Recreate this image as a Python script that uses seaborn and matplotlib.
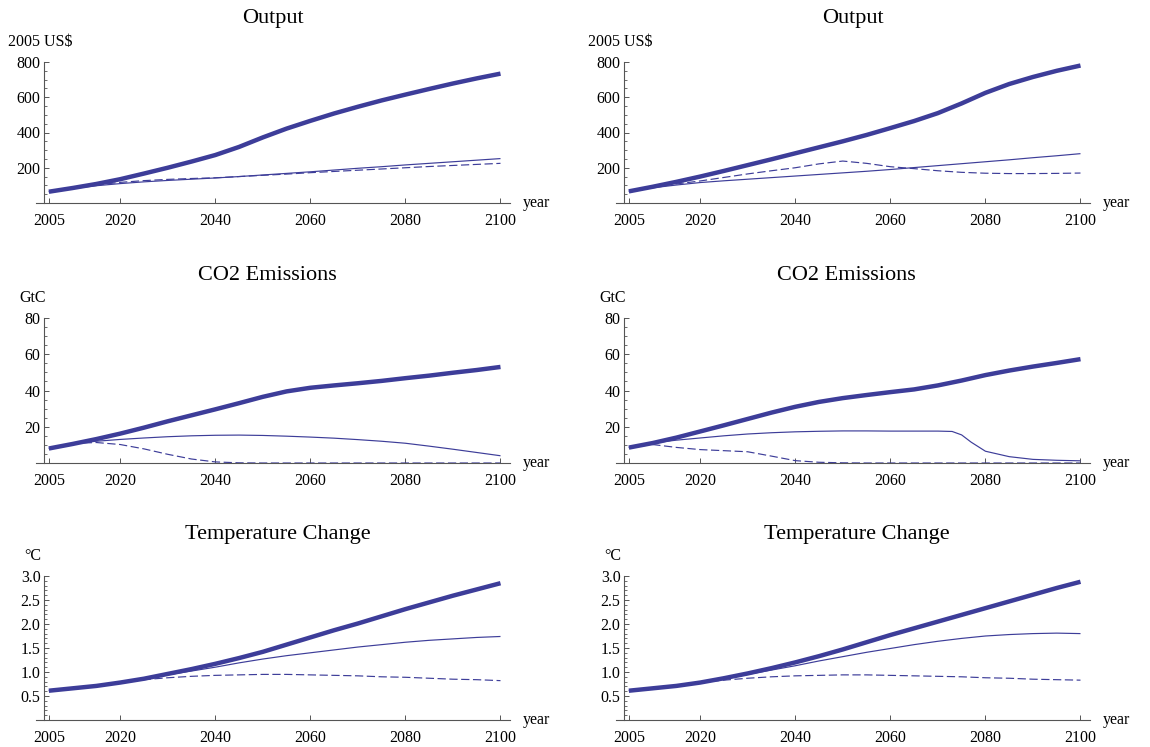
import numpy as np
import matplotlib
matplotlib.use("Agg")
import matplotlib.pyplot as plt
import seaborn as sns
from matplotlib.ticker import MultipleLocator

# ---- data (5-year steps, 2005-2100) ----
years = list(range(2005, 2101, 5))

output_a_thick = [64, 85, 108, 135, 167, 200, 235, 272, 318, 372, 422, 466, 508, 546, 582, 615, 647, 678, 707, 734]
output_a_thin = [64, 82, 98, 110, 120, 128, 135, 142, 150, 159, 168, 177, 187, 197, 206, 216, 225, 234, 243, 252]
output_a_dash = [64, 84, 102, 117, 127, 134, 139, 143, 150, 157, 164, 172, 179, 186, 193, 200, 207, 213, 219, 225]

output_b_thick = [66, 92, 120, 150, 182, 215, 248, 282, 316, 350, 386, 425, 465, 510, 565, 625, 675, 715, 750, 780]
output_b_thin = [66, 86, 102, 116, 126, 135, 144, 153, 162, 171, 180, 190, 201, 212, 223, 234, 245, 257, 268, 280]
output_b_dash = [66, 90, 108, 125, 145, 165, 183, 200, 222, 238, 225, 206, 195, 183, 174, 169, 167, 167, 168, 170]

co2_a_thick = [8, 10.5, 13.2, 16.2, 19.5, 23, 26.3, 29.6, 33, 36.5, 39.5, 41.5, 42.8, 44, 45.3, 46.8, 48.2, 49.8, 51.3, 53]
co2_a_thin = [8, 10.8, 12, 13, 13.8, 14.5, 15, 15.3, 15.4, 15.2, 14.8, 14.3, 13.7, 12.9, 12, 10.9, 9.3, 7.6, 5.8, 4]
co2_a_dash = [8, 10.8, 11.3, 10.2, 7.8, 4.8, 2.2, 0.6, 0.1, 0, 0, 0, 0, 0, 0, 0, 0, 0, 0, 0]

co2_b_thick = [8.5, 11, 14, 17.4, 20.8, 24.3, 27.8, 31, 33.7, 35.8, 37.5, 39.1, 40.6, 42.8, 45.5, 48.5, 51, 53.2, 55.2, 57.3]
co2_b_thin_years = [2005, 2010, 2015, 2020, 2025, 2030, 2035, 2040, 2045, 2050, 2055, 2060, 2065, 2070,
                    2073, 2075, 2077, 2080, 2085, 2090, 2095, 2100]
co2_b_thin = [8.5, 11, 12.6, 13.8, 15, 16, 16.7, 17.2, 17.5, 17.7, 17.7, 17.6, 17.6, 17.6,
              17.4, 15.5, 11.5, 6.5, 3.5, 2.0, 1.5, 1.2]
co2_b_dash = [8.5, 10.2, 8.6, 7.4, 6.8, 6.2, 3.8, 1.3, 0.4, 0.1, 0, 0, 0, 0, 0, 0, 0, 0, 0, 0]

temp_a_thick = [0.61, 0.66, 0.71, 0.78, 0.86, 0.96, 1.06, 1.17, 1.29, 1.42, 1.57, 1.72, 1.87, 2.01, 2.16, 2.31, 2.45, 2.59, 2.72, 2.85]
temp_a_thin = [0.61, 0.66, 0.71, 0.78, 0.85, 0.94, 1.02, 1.10, 1.19, 1.27, 1.34, 1.40, 1.46, 1.52, 1.57, 1.62, 1.66, 1.69, 1.72, 1.74]
temp_a_dash = [0.61, 0.66, 0.71, 0.78, 0.84, 0.88, 0.91, 0.93, 0.94, 0.95, 0.95, 0.94, 0.93, 0.92, 0.90, 0.89, 0.87, 0.85, 0.84, 0.82]

temp_b_thick = [0.61, 0.66, 0.71, 0.78, 0.87, 0.97, 1.08, 1.20, 1.33, 1.47, 1.62, 1.77, 1.91, 2.05, 2.19, 2.33, 2.47, 2.61, 2.75, 2.88]
temp_b_thin = [0.61, 0.66, 0.71, 0.78, 0.86, 0.95, 1.04, 1.13, 1.23, 1.32, 1.41, 1.49, 1.57, 1.64, 1.70, 1.75, 1.78, 1.80, 1.81, 1.80]
temp_b_dash = [0.61, 0.66, 0.71, 0.78, 0.83, 0.87, 0.90, 0.92, 0.93, 0.94, 0.94, 0.93, 0.92, 0.91, 0.90, 0.88, 0.87, 0.85, 0.84, 0.83]

titles = ["Output", "CO2 Emissions", "Temperature Change"]
units = ["2005 US$", "GtC", "\u00b0C"]
x_ticks = [2005, 2020, 2040, 2060, 2080, 2100]
y_majors = [[200, 400, 600, 800], [20, 40, 60, 80], [0.5, 1.0, 1.5, 2.0, 2.5, 3.0]]
y_minor_step = [50, 5, 0.1]
y_top = [800, 80, 3.0]

# ---- style ----
sns.set_theme(style="white")
plt.rcParams["font.family"] = ["Liberation Serif", "DejaVu Serif"]
BLUE = "#3d3d99"
AXIS = "#555555"

W, H = 1150, 747
fig = plt.figure(figsize=(W / 100, H / 100), dpi=100)
fig.patch.set_facecolor("white")


def rect(x0, x1, ytop, ybot):
    return [x0 / W, 1 - ybot / H, (x1 - x0) / W, (ybot - ytop) / H]


col_x = [(36, 510), (616, 1090)]
row_y = [(62, 203), (318, 463), (576, 720)]
title_x = [[273, 853], [267, 846], [278, 857]]
title_y = [18, 276, 534]
unit_x = [[40, 620], [33, 613], [33, 613]]
unit_y = [42, 298, 556]

series = [
    [[(years, output_a_thick), (years, output_a_thin), (years, output_a_dash)],
     [(years, output_b_thick), (years, output_b_thin), (years, output_b_dash)]],
    [[(years, co2_a_thick), (years, co2_a_thin), (years, co2_a_dash)],
     [(years, co2_b_thick), (co2_b_thin_years, co2_b_thin), (years, co2_b_dash)]],
    [[(years, temp_a_thick), (years, temp_a_thin), (years, temp_a_dash)],
     [(years, temp_b_thick), (years, temp_b_thin), (years, temp_b_dash)]],
]
styles = [dict(lw=3.2, linestyle="-"),
          dict(lw=0.85, linestyle="-"),
          dict(lw=0.85, linestyle=(0, (7, 3)))]

for r in range(3):
    for c in range(2):
        ax = fig.add_axes(rect(col_x[c][0], col_x[c][1], row_y[r][0], row_y[r][1]))
        ax.set_facecolor("white")
        for (xs, ys), st in zip(series[r][c], styles):
            sns.lineplot(x=xs, y=ys, ax=ax, color=BLUE, estimator=None, sort=False,
                         solid_capstyle="butt", **st)
        for ln in ax.lines:
            ln.set_clip_on(False)

        ax.set_xlim(2002.3, 2102)
        ax.set_ylim(0, y_top[r])
        ax.set_xlabel("")
        ax.set_ylabel("")
        for s in ("top", "right"):
            ax.spines[s].set_visible(False)
        ax.spines["left"].set_position(("data", 2004))
        for s in ("left", "bottom"):
            ax.spines[s].set_color(AXIS)
            ax.spines[s].set_linewidth(0.8)

        ax.set_xticks(x_ticks)
        ax.set_xticklabels([str(t) for t in x_ticks])
        ax.set_yticks(y_majors[r])
        if r == 2:
            ax.set_yticklabels([f"{v:.1f}" for v in y_majors[r]])
        else:
            ax.set_yticklabels([str(v) for v in y_majors[r]])
        ax.yaxis.set_minor_locator(MultipleLocator(y_minor_step[r]))
        ax.tick_params(axis="both", which="both", left=True, bottom=True, top=False, right=False)
        ax.tick_params(axis="both", which="major", direction="in", length=3.5, width=0.7,
                       color=AXIS, labelsize=11.5, labelcolor="black")
        ax.tick_params(axis="x", which="major", pad=7.5)
        ax.tick_params(axis="y", which="major", pad=2.5)
        ax.tick_params(axis="y", which="minor", direction="in", length=2, width=0.6, color=AXIS)
        ax.grid(False)

        fig.text(title_x[r][c] / W, 1 - title_y[r] / H, titles[r], ha="center", va="center",
                 fontsize=16, color="black")
        fig.text(unit_x[r][c] / W, 1 - unit_y[r] / H, units[r], ha="center", va="center",
                 fontsize=11.5, color="black")
        fig.text((col_x[c][1] + 13) / W, 1 - row_y[r][1] / H, "year", ha="left", va="center",
                 fontsize=11.5, color="black")

fig.savefig("out.png", dpi=100, facecolor="white")
